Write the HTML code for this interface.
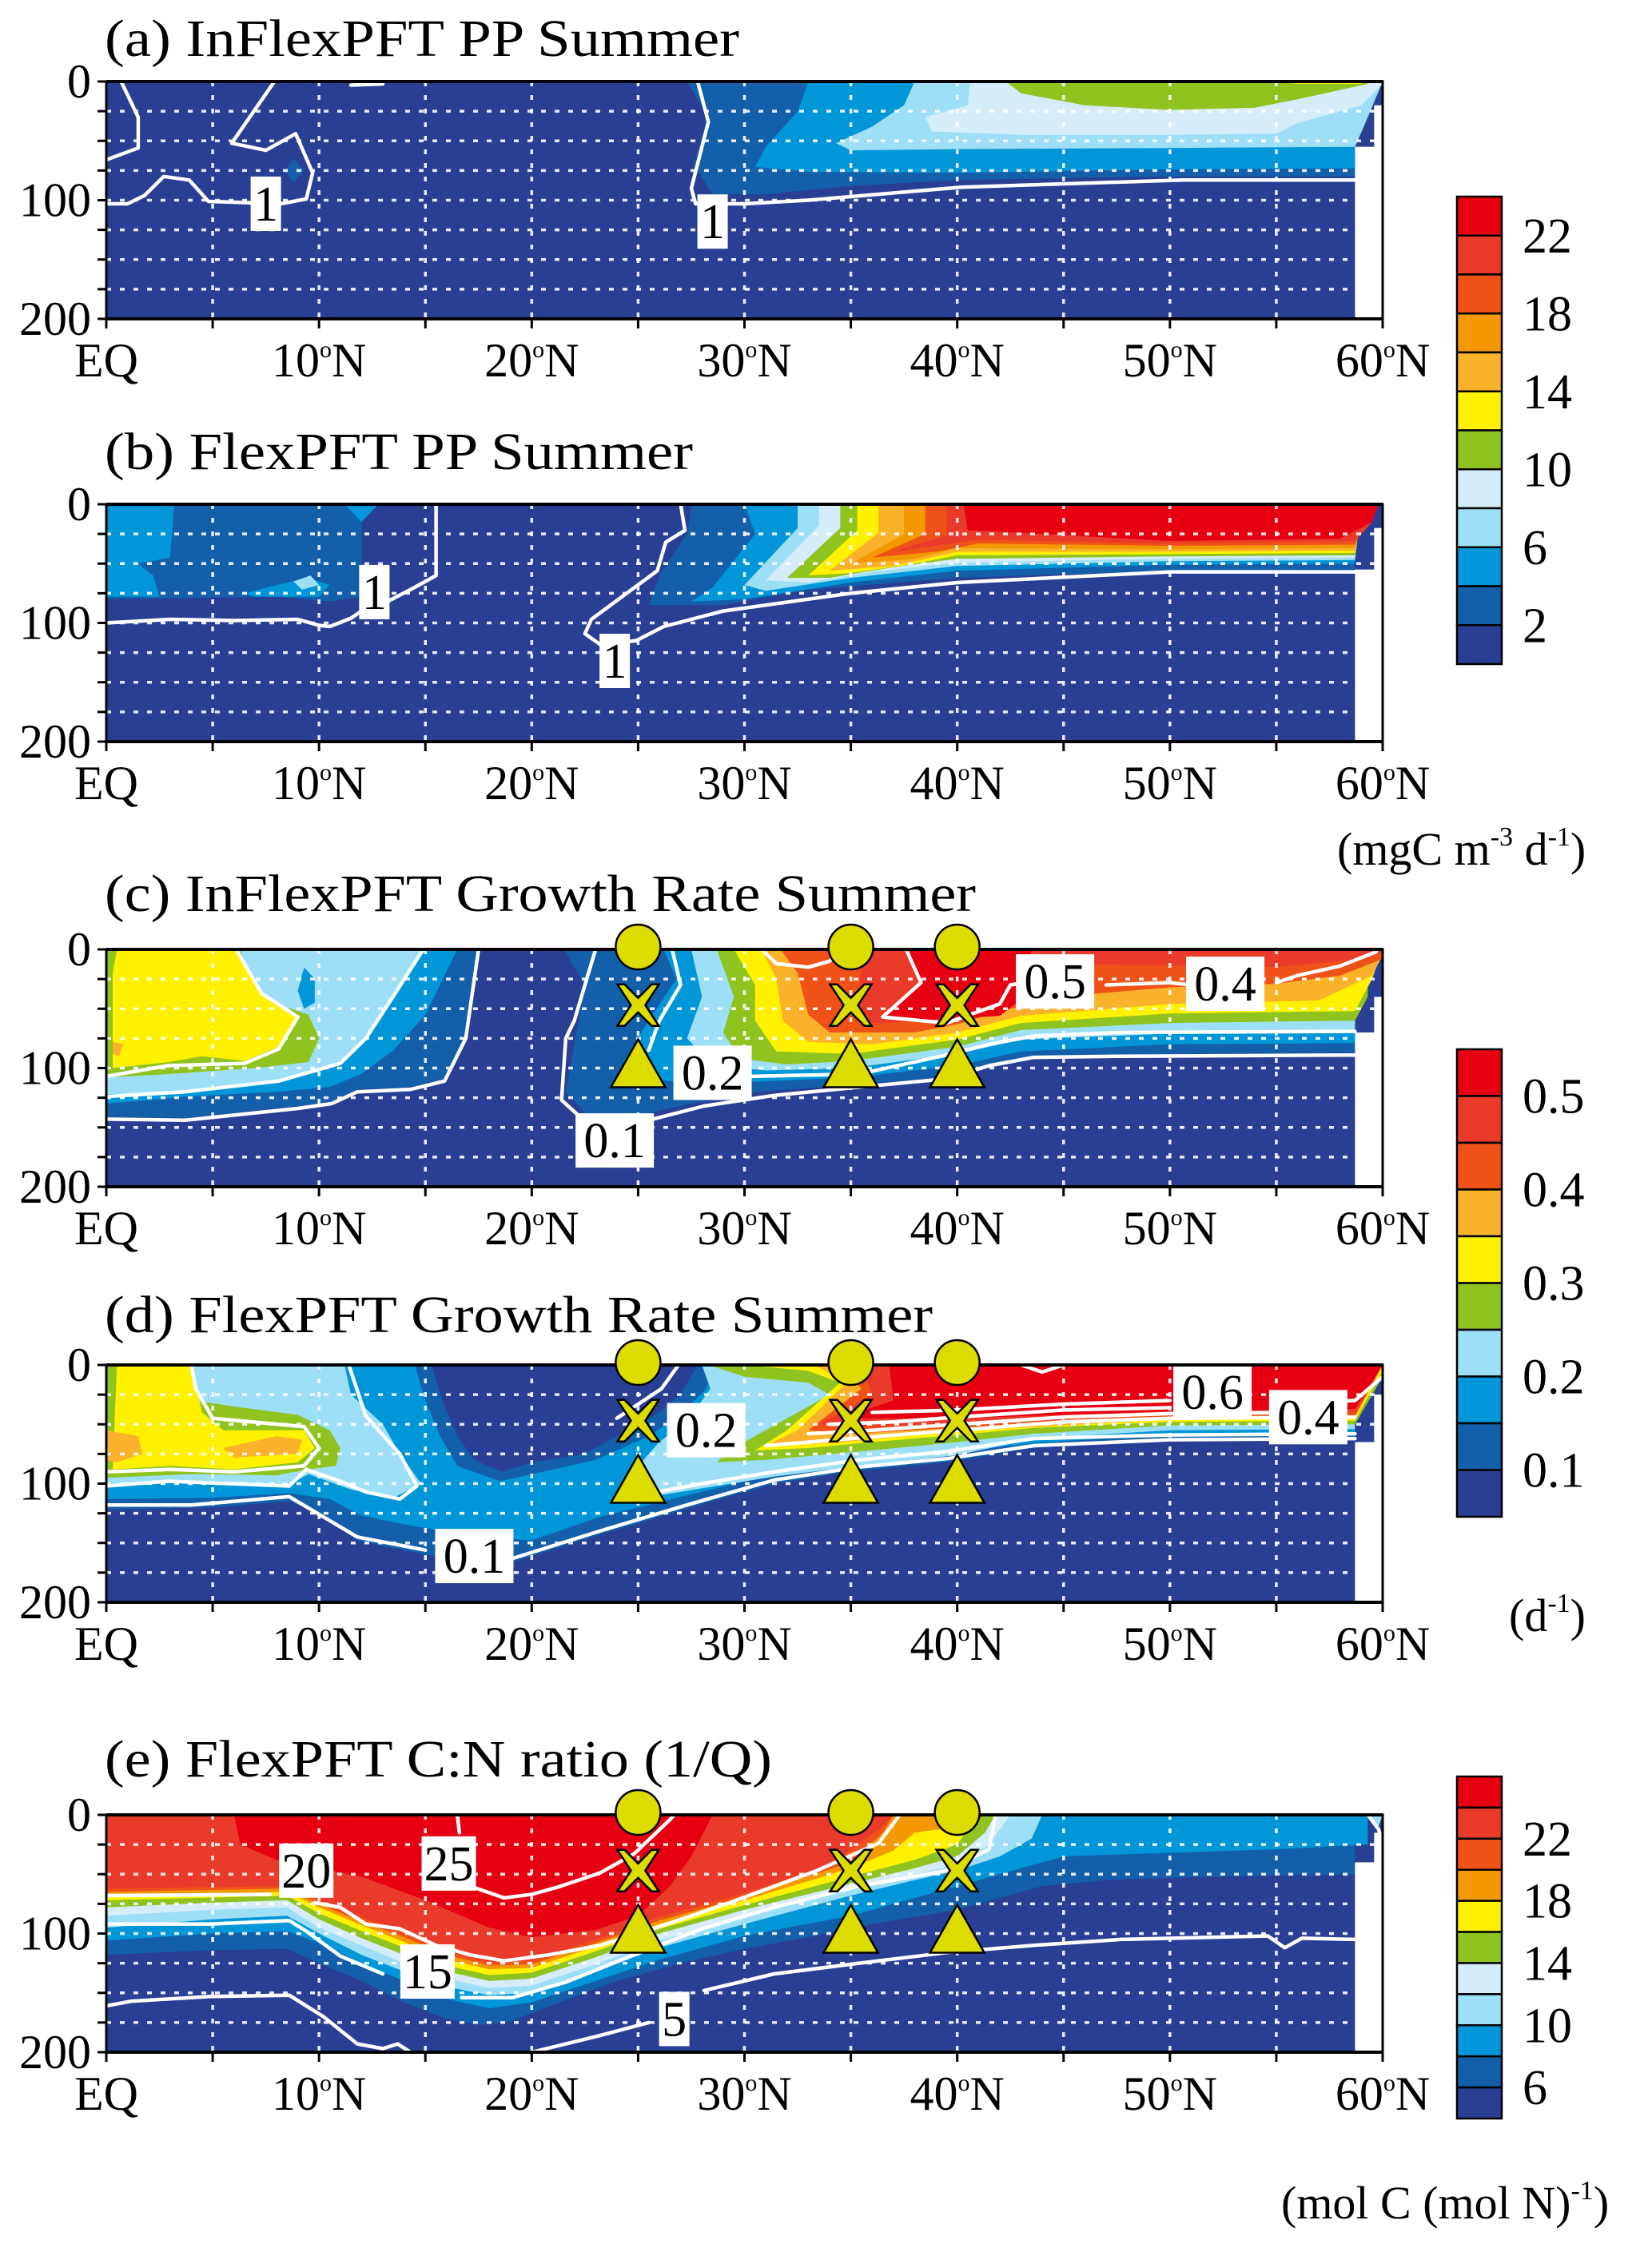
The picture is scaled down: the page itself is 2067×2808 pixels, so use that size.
<!DOCTYPE html>
<html><head><meta charset="utf-8"><title>PP, growth rate and C:N sections</title>
<style>html,body{margin:0;padding:0;background:#fff}svg{display:block}text{font-family:"Liberation Serif",serif;fill:#000}</style>
</head><body>
<svg id="fig" xmlns="http://www.w3.org/2000/svg" width="2067" height="2808" viewBox="0 0 2067 2808"></svg>
<script>
// ---------- data ----------
const latTicks=[0,5,10,15,20,25,30,35,40,45,50,55,60];
const latLabels=[[0,'EQ'],[10,'10'],[20,'20'],[30,'30'],[40,'40'],[50,'50'],[60,'60']];
const depthTicks=[0,25,50,75,100,125,150,175,200];
const depthLabels=[0,100,200];
const stationLats=[25,35,40];
const circleDepth=-2, crossDepth=47, triDepth=96;

const titles=['(a) InFlexPFT PP Summer','(b) FlexPFT PP Summer','(c) InFlexPFT Growth Rate Summer','(d) FlexPFT Growth Rate Summer','(e) FlexPFT C:N ratio (1/Q)'];

const fillsA=[
 ['b2',[[27.3,0],[28.3,30],[27.6,70],[28.5,95],[31,95],[35,88],[40,83],[50,80],[58.7,80],[58.7,0]]],
 ['b2',[[8.8,65],[9.3,75],[8.8,85],[8.4,75]]],
 ['b',[[33,0],[32.5,25],[31,55],[30.5,72],[33,76],[40,77],[50,74],[58.7,73],[58.7,0]]],
 ['lb',[[38,0],[37.5,20],[36,38],[34.3,52],[35,58],[40,57],[50,56],[58.7,55],[59.3,30],[60,0]]],
 ['vl',[[40.6,0],[40.5,20],[38.5,30],[38.8,42],[43,45],[50,45],[55,44],[56,35],[59,20],[60,2],[60,0]]],
 ['g',[[42.3,0],[43,10],[46,20],[50,24],[54,22],[56,15],[59.3,2],[59.3,0]]],
 ['y',[[55,0],[56,2],[59,2],[59,0]]]
];
const linesA=[
 [[0.7,0],[1.5,30],[1.5,56],[0,66]],
 [[7.9,0],[5.9,52],[7.5,58],[8.9,44],[9.7,77],[9.4,99],[8.2,103],[4.8,101],[3.9,83],[2.7,80],[1.8,96],[1,103],[0,103]],
 [[11.5,3],[13,2]],
 [[27.8,0],[28.3,34],[27.5,90],[27.7,103],[30,103],[33,100],[40.2,89],[50.6,83],[58.7,83]]
];
const labelsA=[['1',7.5,103],['1',28.5,118]];

const fillsB=[
 ['b2',[[0,0],[0,80],[4,79],[8,78],[10.5,82],[12,78],[12,0]]],
 ['b',[[0,0],[0,78],[2.5,78],[2.2,60],[1.5,50],[3,45],[3.2,0]]],
 ['b',[[6.5,75],[8,68],[9.5,62],[10.5,68],[10,78],[7,78]]],
 ['b',[[11.2,0],[12,15],[12.8,0]]],
 ['lb',[[8.8,65],[9.6,60],[10,68],[9.2,72]]],
 ['b2',[[27.5,0],[27.3,25],[26,60],[25.5,85],[29,85],[33,72],[40,62],[50,56],[58.7,55],[58.7,0]]],
 ['b',[[30,0],[30.5,25],[28.5,70],[27.5,82],[30,80],[35,66],[40,56],[50,51],[58.7,50],[58.7,0]]],
 ['lb',[[32.5,0],[32.5,20],[30,68],[31,73],[35,62],[40,52],[50,48],[58.7,47],[59,0]]],
 ['vl',[[33.5,0],[33.5,18],[31,64],[33,66],[36,57],[40,49],[50,46],[58.7,45],[59,0]]],
 ['g',[[34.5,0],[34.5,20],[32,62],[34,62],[37,53],[40,46],[50,44],[58.7,43],[59,0]]],
 ['y',[[35.3,0],[35.3,22],[33,60],[35,58],[38,50],[40,43],[50,42],[58.7,41],[59,0]]],
 ['lo',[[36.3,0],[36.3,24],[34,56],[37,52],[40,40],[50,40],[58.7,39],[59,0]]],
 ['o',[[37.5,0],[37.5,25],[35,50],[38,46],[40,37],[50,38],[58.7,37],[59.3,0]]],
 ['or',[[38.5,0],[38.5,25],[36,45],[39,40],[41,33],[50,35],[58.7,34],[59.5,0]]],
 ['r2',[[39.5,0],[39.5,26],[37,40],[41,30],[50,33],[58.7,31],[59.5,15],[59.8,0]]],
 ['r',[[40.3,0],[40.5,22],[43,24],[50,31],[58,29],[59.5,15],[59.8,0]]]
];
const linesB=[
 [[0,100],[3,97],[6,98],[9,97],[10,102],[10.5,103],[11.5,96],[12,90],[13,84],[14.5,70],[15.5,60],[15.5,0]],
 [[27,0],[27.2,22],[26.3,32],[25.9,56],[22.8,97],[22.5,109],[23.2,118],[24.9,115],[26.2,103],[29,90],[35,75],[40,66],[50,57],[58.7,57]]
];
const labelsB=[['1',12.6,74],['1',23.9,132]];

const fillsC=[
 ['b2',[[0,0],[0,141],[3.7,142],[6.9,136],[9,132],[10.6,128],[11.8,118],[14.3,116],[15.9,109],[16.9,75],[17.5,0]]],
 ['b2',[[21.5,0],[22.5,30],[22,80],[21.6,120],[22.5,138],[24.5,142],[27,132],[30,121],[35,114],[40,107],[43,92],[50,88],[58.7,87],[58.7,0]]],
 ['b',[[0,0],[0,130],[4,124],[8,120],[10.5,116],[12,105],[13.5,85],[15,55],[16.5,0]]],
 ['b',[[26.2,0],[26.8,25],[25.5,60],[24.3,95],[25,108],[27,112],[30,112],[35,108],[40,98],[43,86],[50,80],[58.7,79],[58.7,0]]],
 ['lb',[[0,0],[0,122],[3.7,120],[8,112],[11,97],[12.2,75],[13.4,42],[14.9,0]]],
 ['b',[[9.3,15],[9.8,25],[9.8,45],[9.3,50],[9,35]]],
 ['lb',[[27.5,0],[28,40],[27.3,75],[28.5,98],[31,102],[35,100],[40,88],[43,76],[50,71],[58.7,70],[58.7,0]]],
 ['g',[[0,0],[0,108],[3,105],[7,100],[9.5,95],[10,75],[9.5,55],[7,40],[6.3,0]]],
 ['y',[[0.5,0],[0.3,20],[0.3,100],[2.9,95],[4.5,90],[6.5,94],[8.1,82],[9,57],[7.3,37],[6.1,0]]],
 ['lo',[[0.3,78],[0.8,80],[0.6,90],[0.3,88]]],
 ['g',[[28.7,0],[29.5,40],[29,70],[29.8,92],[32,97],[35,94],[40,82],[43,68],[50,62],[58.7,60],[59.3,40],[59.3,0]]],
 ['y',[[29.5,0],[30.5,30],[30.5,60],[31.5,86],[35,88],[40,76],[43,62],[50,54],[58.7,52],[59.5,25],[60,0]]],
 ['lo',[[30.8,0],[31.5,25],[31.8,60],[33,78],[36,80],[40,70],[43,56],[50,46],[57,43],[59.5,22],[60,5],[60,0]]],
 ['or',[[31.7,0],[32.5,20],[33,55],[34,70],[38,70],[40,63],[42.5,50],[46,38],[50,32],[55,29],[58,22],[60,8],[60,0]]],
 ['r2',[[33.5,0],[35.5,15],[35.3,45],[36,62],[40,60],[42,50],[43.5,30],[44,12],[55,15],[59,8],[60,2],[60,0]]],
 ['r',[[37.5,0],[38.3,30],[36.5,55],[38,60],[42,56],[43,42],[43.5,0]]]
];
const linesC=[
 [[0,143],[3.7,144],[6.9,138],[9,134],[10.6,130],[11.8,120],[14.3,118],[15.9,111],[16.9,75],[17.5,0]],
 [[0,124],[3.7,120],[8.1,111],[11,96],[12.2,75],[13.4,42],[14.9,0]],
 [[0,107],[2.9,98],[6.5,96],[8.1,84],[9,57],[7.3,37],[6.1,0]],
 [[23,0],[22.5,30],[22,60],[21.6,75],[21.4,127],[22.2,140],[23,150]],
 [[25.7,143],[28.1,132],[31.4,123],[35.4,116],[39.5,109],[41.5,98],[43.6,91],[47.7,90],[58.7,89]],
 [[26.6,0],[27,30],[26,60],[25.5,85]],
 [[30.3,107],[35.4,105],[39.5,89],[41.5,80],[43.6,73],[47.7,70],[58.7,69]],
 [[37.6,0],[38.3,28],[36.5,57],[39.5,62],[42,46],[42.5,30],[43.2,28]],
 [[47,30],[50,28],[51,30]],
 [[55,28],[56,22],[58,14],[59.7,2]],
 [[30.8,0],[31.5,12],[33,15],[34,10],[34.5,0]]
];
const labelsC=[['0.5',44.6,27],['0.4',52.6,29],['0.2',28.5,104],['0.1',23.9,161]];

const fillsD=[
 ['b2',[[0,0],[0,122],[5,120],[8.6,115],[10,125],[11.8,148],[15,160],[17,163],[19.1,166],[23.2,143],[27.3,121],[31.4,100],[35.4,89],[39.5,82],[43.6,70],[50,62],[58.7,61],[58.7,0]]],
 ['b',[[0,0],[0,113],[5,112],[8.6,108],[10.5,113],[12,127],[14.5,136],[17,143],[20,148],[23.2,128],[27.3,110],[31.4,92],[35.4,84],[39.5,74],[43.6,66],[50,58],[58.7,57],[58.7,0]]],
 ['b2',[[14.5,0],[15,30],[15.7,60],[16.5,85],[18.5,98],[20.5,90],[23,80],[25.5,60],[27,42],[28.2,20],[28.5,0]]],
 ['db',[[15.3,0],[15.8,30],[16.5,60],[17.3,80],[18.6,90],[20,82],[22.5,75],[24.5,55],[26,40],[27,25],[27.8,0]]],
 ['lb',[[0,0],[0,100],[5,98],[8.5,102],[9.5,92],[11.5,105],[13.5,112],[14.8,100],[13.8,75],[13,50],[11.5,25],[11.2,0]]],
 ['lb',[[28,0],[28.4,20],[27.4,45],[26,65],[25,85],[25.3,112],[28,104],[31.4,94],[35,86],[40,76],[43.6,62],[50,55],[58.7,54],[58.7,0]]],
 ['g',[[0,0],[0,95],[4,92],[8,93],[9.5,88],[10.8,85],[11,70],[10.5,55],[9,42],[6,35],[4.2,30],[4,0]]],
 ['y',[[0.5,0],[0.3,88],[3,85],[6,88],[9,82],[9.8,70],[9.3,55],[5.5,55],[4.5,40],[4,0]]],
 ['lo',[[0,55],[1.5,60],[1.7,75],[0.5,82],[0,80]]],
 ['lo',[[5.5,70],[8,60],[9.2,63],[9,75],[6,78]]],
 ['g',[[28.3,0],[30,10],[33,15],[34,25],[31.5,50],[29.3,72],[28.7,82],[31,80],[35.4,73],[40,65],[43.6,58],[50,51],[58.7,50],[60,10],[60,0]]],
 ['y',[[30,0],[33,5],[34.5,15],[32,55],[30.5,72],[33,70],[36,65],[40,59],[43.6,53],[50,48],[58.7,47],[60,5],[60,0]]],
 ['lo',[[33.3,0],[34.8,15],[32.5,55],[31,68],[34,66],[40,56],[50,46],[58.7,45],[60,0]]],
 ['or',[[34.5,0],[35.5,20],[33,55],[35,58],[40,53],[50,44],[58.7,43],[60,0]]],
 ['r2',[[35.5,0],[36,25],[33.5,50],[36,52],[40,50],[50,42],[58.7,40],[60,0]]],
 ['r',[[36.8,0],[37,30],[34.5,45],[38,45],[40,45],[50,39],[58.7,37],[60,0]]]
];
const linesD=[
 [[0,118],[4,118],[8.6,111],[11.8,145],[15,156]],
 [[19.1,163],[23.2,140],[27.3,118],[31.4,97],[35.4,86],[39.5,79],[43.6,68],[50,63],[58.7,62]],
 [[0,102],[2.9,98],[8.6,102],[9.4,88],[11,98],[12.2,107],[13.8,113],[14.6,102],[13.8,75],[12.2,43],[11.4,0]],
 [[26.9,0],[26.1,20],[24,45]],
 [[25,110],[28,100],[31.4,90],[35.4,80],[39.5,73],[43.6,62],[50,59],[58.7,58]],
 [[0,90],[3,88],[6,90],[9.3,85],[10,70],[9.3,52],[5,45],[4.2,20],[4,0]],
 [[31,68],[35,62],[40,55],[45,48],[50,45],[58.7,44]],
 [[33,58],[36,55],[40,50],[45,44],[50,41],[56,40]],
 [[34,50],[37,48],[40,44],[45,38],[50,36]],
 [[36,40],[40,38],[45,33],[50,30]],
 [[55,33],[58.7,30],[60,10]],
 [[43,0],[44,6],[45,0]]
];
const labelsD=[['0.6',52,23],['0.4',56.5,44],['0.2',28.2,55],['0.1',17.3,161]];

const fillsE=[
 ['b2',[[0,0],[0,118],[5,114],[8.5,113],[10,125],[12,140],[14,158],[16,172],[17.5,177],[19,174],[21,160],[24,140],[27,125],[30,113],[33,103],[36,92],[40,80],[44,60],[47,55],[50,53],[55,51],[58.7,50],[58.7,0]]],
 ['b',[[0,0],[0,106],[5,100],[8.5,98],[10,108],[12,125],[14,140],[16,155],[18,163],[20,158],[23,140],[26,122],[30,102],[35,85],[40,60],[43,45],[45,35],[50,32],[55,29],[59.3,25],[59.3,0]]],
 ['lb',[[0,0],[0,95],[5,88],[8.5,85],[10,100],[12,118],[14,132],[16,145],[18,152],[20,150],[23,132],[26,112],[30,92],[35,68],[38,55],[40,47],[42,35],[43.5,20],[44,0]]],
 ['lb',[[59.3,0],[59.8,10],[60,0]]],
 ['vl',[[0,0],[0,85],[5,80],[8.5,78],[10,95],[12,110],[14,125],[16,138],[18,146],[20,144],[23,126],[26,106],[30,86],[35,62],[38,50],[40,42],[41.5,25],[42.5,0]]],
 ['g',[[0,0],[0,78],[5,74],[8.5,72],[10,88],[12,104],[14,118],[16,132],[18,140],[20,138],[23,120],[26,100],[30,80],[35,58],[38,45],[40,35],[41.3,15],[41.8,0]]],
 ['y',[[0,0],[0,72],[8.5,68],[10,83],[12,98],[14,112],[16,127],[18,135],[20,133],[23,115],[26,96],[30,76],[35,52],[38,38],[40,25],[41,0]]],
 ['o',[[0,0],[0,68],[8.5,65],[10,78],[12,93],[14,107],[16,122],[18,130],[20,129],[23,111],[26,92],[30,72],[35,45],[37,30],[38,15],[40,10],[40.5,0]]],
 ['or',[[0,0],[0,65],[8.5,62],[10,75],[12,90],[14,103],[16,118],[18,127],[20,126],[23,108],[26,89],[30,69],[35,40],[36.5,15],[37,0]]],
 ['r2',[[0,0],[0,62],[8.5,60],[10,72],[12,86],[14,100],[16,115],[18,124],[20,123],[23,105],[26,86],[30,66],[34,42],[36.5,10],[37,0]]],
 ['r',[[6,0],[6.3,25],[8,38],[12,52],[15,72],[18,95],[20,103],[23,97],[25,85],[26.5,60],[27.5,35],[28.5,0]]]
];
const linesE=[
 [[16.5,0],[16.6,15]],
 [[17.1,60],[18.7,70],[20,67],[21.2,61],[23.2,49],[24.8,33],[26.5,4],[26.7,0]],
 [[0,68],[7.7,67]],
 [[9.8,74],[11,78],[12.2,92],[13.8,96],[15.5,110],[17.1,118],[18.7,123],[20.8,118],[23.2,110],[25.7,96],[29.3,74],[33.4,47],[36.3,24],[37.3,0]],
 [[0,92],[4.9,92],[8.6,89],[9.4,98],[11,119],[13,134]],
 [[16.7,154],[19.1,154],[21.6,141],[24.8,118],[28,96],[31.4,78],[35.4,60],[39.5,47],[41.5,29],[41.8,0]],
 [[0,161],[1.2,157],[4.9,153],[8.6,152],[10.2,170],[11.8,193],[13,197],[13.7,193],[14.3,200]],
 [[20,200],[23.2,186],[25.5,175]],
 [[28.1,148],[31.4,134],[35.4,125],[39.5,116],[43.6,110],[47.7,105],[54.6,102],[55.4,112],[56.2,104],[58.7,105]],
 [[59.3,0],[59.8,12],[60,22]]
];
const labelsE=[['20',9.4,47],['25',16.1,41],['15',15.1,132],['5',26.7,172]];

const cbar1Colors=['r','r2','or','o','lo','y','g','vl','lb','b','b2','db'];
const cbar1Labels=['22','18','14','10','6','2'];
const cbar2Colors=['r','r2','or','lo','y','g','lb','b','b2','db'];
const cbar2Labels=['0.5','0.4','0.3','0.2','0.1'];
const cbar3Colors=['r','r2','or','o','y','g','vl','lb','b','b2','db'];
const cbar3Labels=['22','18','14','10','6'];

// ---------- drawing ----------
const PAL={db:'#283f94',b2:'#135fa9',b:'#0096d8',lb:'#9ddff7',vl:'#d5edfb',g:'#8fc31f',y:'#fff100',lo:'#fbb22b',o:'#f39800',or:'#f05117',r2:'#ea3a2a',r:'#e60012'};
const NS='http://www.w3.org/2000/svg';
const svg=document.getElementById('fig');
const X0=133,X1=1730,PH=297;
const panelTops=[102,631,1188,1708,2271];
const titleBase=[70,587,1140,1667,2223];
const titleLen=[794,736,1090,1036,835];
const landTop=[[55,20],[55,20],[70,40],[65,25],[40,15]];
const fills=[fillsA,fillsB,fillsC,fillsD,fillsE];
const lines=[linesA,linesB,linesC,linesD,linesE];
const labels=[labelsA,labelsB,labelsC,labelsD,labelsE];
const hasMarkers=[false,false,true,true,true];
const xs=lat=>X0+lat*(X1-X0)/60;
function mk(tag,attrs,parent){const e=document.createElementNS(NS,tag);for(const k in attrs)e.setAttribute(k,attrs[k]);(parent||svg).appendChild(e);return e;}
function ptsStr(pts,ys){return pts.map(p=>xs(p[0]).toFixed(1)+','+ys(p[1]).toFixed(1)).join(' ');}

panelTops.forEach((top,pi)=>{
  const ys=d=>top+d*PH/200;
  const letter='abcde'[pi];
  const g=mk('g',{});
  
  
  const t=mk('text',{x:131,y:titleBase[pi],'font-size':66,textLength:titleLen[pi],lengthAdjust:'spacingAndGlyphs'},g);
  t.textContent=titles[pi];
  
  
  const cp=mk('clipPath',{id:'clip'+pi},g);
  mk('rect',{x:X0,y:top,width:X1-X0,height:PH},cp);
  const plot=mk('g',{'clip-path':'url(#clip'+pi+')'},g);
  
  
  mk('rect',{x:X0,y:top,width:X1-X0,height:PH,fill:PAL.db},plot);
  fills[pi].forEach(f=>{
    const p=mk('polygon',{points:ptsStr(f[1],ys),fill:PAL[f[0]]},plot);
    
    
  });
  // land mask
  const lt=landTop[pi];
  mk('rect',{x:xs(58.7),y:ys(lt[0]),width:xs(60)-xs(58.7),height:ys(200)-ys(lt[0]),fill:'#fff'},plot);
  mk('rect',{x:xs(59.6),y:ys(lt[1]),width:xs(60)-xs(59.6),height:ys(200)-ys(lt[1]),fill:'#fff'},plot);
  // grid
  for(let d=25;d<200;d+=25){const l=mk('line',{x1:X0,x2:X1,y1:ys(d),y2:ys(d),stroke:'#fff','stroke-width':3.5,'stroke-dasharray':'6 11','stroke-opacity':0.9},plot);
    }
  for(let la=5;la<60;la+=5){const l=mk('line',{x1:xs(la),x2:xs(la),y1:top,y2:top+PH,stroke:'#fff','stroke-width':3.5,'stroke-dasharray':'6 11','stroke-opacity':0.9},plot);
    }
  // contour lines
  lines[pi].forEach(ln=>{
    const p=mk('polyline',{points:ptsStr(ln,ys),fill:'none',stroke:'#fff','stroke-width':4.5,'stroke-linejoin':'round','stroke-linecap':'round'},plot);
    
    
  });
  // labels
  labels[pi].forEach(lb=>{
    const w=lb[0].length*30+8;
    const cx=xs(lb[1]),cy=ys(lb[2]);
    const r=mk('rect',{x:cx-w/2,y:cy-34,width:w,height:68,fill:'#fff'},plot);
    
    
    const tx=mk('text',{x:cx,y:cy+21,'font-size':62,'text-anchor':'middle'},plot);
    tx.textContent=lb[0];
    
    
  });
  // frame
  const fr=mk('rect',{x:X0,y:top,width:X1-X0,height:PH,fill:'none',stroke:'#000','stroke-width':3},g);
  
  mk('line',{x1:X0,x2:X1,y1:top,y2:top,stroke:'#000','stroke-width':4},g);
  mk('line',{x1:X0,x2:X1,y1:top+PH,y2:top+PH,stroke:'#000','stroke-width':4},g);
  depthTicks.forEach(d=>{const l=mk('line',{x1:X0-11,x2:X0,y1:ys(d),y2:ys(d),stroke:'#000','stroke-width':3},g);
    });
  latTicks.forEach(la=>{const l=mk('line',{x1:xs(la),x2:xs(la),y1:top+PH,y2:top+PH+12,stroke:'#000','stroke-width':3},g);
    });
  depthLabels.forEach(d=>{const tx=mk('text',{x:114,y:ys(d)+20,'font-size':60,'text-anchor':'end'},g);tx.textContent=String(d);
    });
  latLabels.forEach(ll=>{
    const tx=mk('text',{x:xs(ll[0]),y:top+PH+72,'font-size':60,'text-anchor':'middle'},g);
    
    if(ll[1]==='EQ'){tx.textContent='EQ';}
    else{const a=mk('tspan',{},tx);a.textContent=ll[1];
      const b=mk('tspan',{'font-size':30,dy:-24},tx);b.textContent='o';
      const c=mk('tspan',{dy:24},tx);c.textContent='N';}
  });
  // station markers
  if(hasMarkers[pi]){
    stationLats.forEach(la=>{
      const cx=xs(la);
      const c=mk('ellipse',{cx:cx,cy:ys(circleDepth),rx:28,ry:28,fill:'#dcdc00',stroke:'#000','stroke-width':2.5},g);
      
      const cy=ys(crossDepth),s=26,k=9;
      const xp=[[-s,-s],[-s+k,-s],[0,-k],[s-k,-s],[s,-s],[k,0],[s,s],[s-k,s],[0,k],[-s+k,s],[-s,s],[-k,0]].map(p=>(cx+p[0])+','+(cy+p[1])).join(' ');
      const x=mk('polygon',{points:xp,fill:'#dcdc00',stroke:'#000','stroke-width':2.5},g);
      
      const ty=ys(triDepth);
      const tr=mk('polygon',{points:cx+','+(ty-30)+' '+(cx+34)+','+(ty+30)+' '+(cx-34)+','+(ty+30),fill:'#dcdc00',stroke:'#000','stroke-width':2.5},g);
      
    });
  }
});

// colorbars
function colorbar(name,colors,labs,top,bottom,firstIdx,step){
  const g=mk('g',{});
  
  
  const h=(bottom-top)/colors.length;
  colors.forEach((c,i)=>{const r=mk('rect',{x:1823,y:top+i*h,width:56,height:h,fill:PAL[c],stroke:'#000','stroke-width':2.5},g);
    });
  labs.forEach((l,i)=>{const tx=mk('text',{x:1905,y:top+(firstIdx+i*step)*h+21,'font-size':62},g);tx.textContent=l;
    });
  return g;
}
colorbar('colorbar-pp',cbar1Colors,cbar1Labels,246,831,1,2);
colorbar('colorbar-growth',cbar2Colors,cbar2Labels,1313,1898,1,2);
colorbar('colorbar-cn',cbar3Colors,cbar3Labels,2223,2651,2,2);

function units(name,x,y,parts){
  const tx=mk('text',{x:x,y:y,'font-size':58});
  
  parts.forEach(p=>{const s=mk('tspan',p[1]?{'font-size':34,dy:-24}:{dy:p[2]||0},tx);s.textContent=p[0];});
}
units('units-pp',1673,1082,[['(mgC m',0],['-3',1],[' d',0,24],['-1',1],[')',0,24]]);
units('units-growth',1888,2041,[['(d',0],['-1',1],[')',0,24]]);
units('units-cn',1603,2776,[['(mol C (mol N)',0],['-1',1],[')',0,24]]);
</script>
</body></html>
